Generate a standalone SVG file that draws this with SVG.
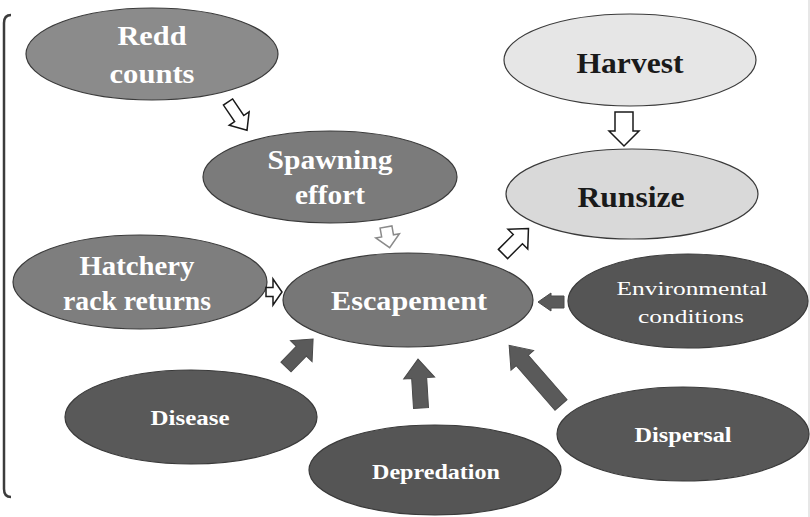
<svg xmlns="http://www.w3.org/2000/svg" width="810" height="517" viewBox="0 0 810 517">
<style>
.n{stroke:#3a3a3a;stroke-width:1.2}
.w{fill:#ffffff;font-family:'Liberation Serif','Times New Roman',serif;font-weight:bold;text-anchor:middle}
.r{font-weight:normal}
.k{fill:#1a1a1a;font-family:'Liberation Serif','Times New Roman',serif;font-weight:bold;text-anchor:middle}
.ho{fill:#ffffff;stroke:#1a1a1a;stroke-width:1.5;stroke-linejoin:miter}
.hg{fill:#ffffff;stroke:#8a8a8a;stroke-width:1.5}
.so{fill:#5a5a5a;stroke:#4a4a4a;stroke-width:1}
</style>
<rect width="810" height="517" fill="#ffffff"/>
<path d="M11,15 Q4,15 4,23 L4,489 Q4,497 11,497" fill="none" stroke="#3c3c3c" stroke-width="2.5"/>
<line x1="809" y1="0" x2="809" y2="517" stroke="#cfcfcf" stroke-width="1"/>

<g id="redd-counts">
<ellipse class="n" cx="152" cy="54" rx="126" ry="46" fill="#8b8b8b"/>
<text class="w" x="152" y="45" font-size="27" textLength="69" lengthAdjust="spacingAndGlyphs" font-family="Liberation Serif, serif">Redd</text>
<text class="w" x="152" y="83" font-size="27" textLength="85" lengthAdjust="spacingAndGlyphs" font-family="Liberation Serif, serif">counts</text>
</g>
<g id="harvest">
<ellipse class="n" cx="630" cy="60" rx="126" ry="46" fill="#e6e6e6"/>
<text class="k" x="630" y="73" font-size="29" textLength="107" lengthAdjust="spacingAndGlyphs" font-family="Liberation Serif, serif">Harvest</text>
</g>
<g id="runsize">
<ellipse class="n" cx="632" cy="194" rx="126" ry="45" fill="#d9d9d9"/>
<text class="k" x="631" y="207" font-size="29" textLength="107" lengthAdjust="spacingAndGlyphs" font-family="Liberation Serif, serif">Runsize</text>
</g>
<g id="spawning-effort">
<ellipse class="n" cx="330" cy="177" rx="127" ry="46" fill="#7b7b7b"/>
<text class="w" x="330" y="169" font-size="27" textLength="125" lengthAdjust="spacingAndGlyphs" font-family="Liberation Serif, serif">Spawning</text>
<text class="w" x="330" y="204" font-size="27" textLength="70" lengthAdjust="spacingAndGlyphs" font-family="Liberation Serif, serif">effort</text>
</g>
<g id="hatchery-rack-returns">
<ellipse class="n" cx="140" cy="282" rx="127" ry="47" fill="#7e7e7e"/>
<text class="w" x="137" y="275" font-size="27" textLength="115" lengthAdjust="spacingAndGlyphs" font-family="Liberation Serif, serif">Hatchery</text>
<text class="w" x="137" y="310" font-size="27" textLength="148" lengthAdjust="spacingAndGlyphs" font-family="Liberation Serif, serif">rack returns</text>
</g>
<g id="escapement">
<ellipse class="n" cx="408" cy="300" rx="125" ry="47" fill="#777777"/>
<text class="w" x="409" y="310" font-size="27" textLength="156" lengthAdjust="spacingAndGlyphs" font-family="Liberation Serif, serif">Escapement</text>
</g>
<g id="environmental-conditions">
<ellipse class="n" cx="688" cy="301" rx="120" ry="47" fill="#555555"/>
<text class="w r" x="692" y="295" font-size="19" textLength="151" lengthAdjust="spacingAndGlyphs" font-family="Liberation Serif, serif">Environmental</text>
<text class="w r" x="691" y="323" font-size="19" textLength="106" lengthAdjust="spacingAndGlyphs" font-family="Liberation Serif, serif">conditions</text>
</g>
<g id="disease">
<ellipse class="n" cx="191" cy="417" rx="126" ry="47" fill="#595959"/>
<text class="w" x="190" y="425" font-size="21" textLength="79" lengthAdjust="spacingAndGlyphs" font-family="Liberation Serif, serif">Disease</text>
</g>
<g id="depredation">
<ellipse class="n" cx="435" cy="470" rx="126" ry="45" fill="#555555"/>
<text class="w" x="436" y="479" font-size="21" textLength="128" lengthAdjust="spacingAndGlyphs" font-family="Liberation Serif, serif">Depredation</text>
</g>
<g id="dispersal">
<ellipse class="n" cx="683" cy="434" rx="126" ry="47" fill="#575757"/>
<text class="w" x="683" y="442" font-size="21" textLength="97" lengthAdjust="spacingAndGlyphs" font-family="Liberation Serif, serif">Dispersal</text>
</g>

<g id="connectors">
<path class="ho" transform="translate(228,102) rotate(56)" d="M0,-5.5 L20,-5.5 L20,-12 L34,0 L20,12 L20,5.5 L0,5.5 Z"/>
<path class="ho" transform="translate(624,112) rotate(90)" d="M0,-9 L19,-9 L19,-15 L34,0 L19,15 L19,9 L0,9 Z"/>
<path class="hg" transform="translate(386,227) rotate(80)" d="M0,-6 L9,-6 L9,-12 L21,0 L9,12 L9,6 L0,6 Z"/>
<path class="ho" transform="translate(503,254) rotate(-45)" d="M0,-6.5 L21,-6.5 L21,-14 L36,0 L21,14 L21,6.5 L0,6.5 Z"/>
<path class="ho" transform="translate(266,292)" d="M0,-4.5 L7,-4.5 L7,-13 L16,0 L7,13 L7,4.5 L0,4.5 Z" stroke-width="1.3"/>
<path class="so" transform="translate(564,302) rotate(180)" d="M0,-6 L13,-6 L13,-9 L26,0 L13,9 L13,6 L0,6 Z"/>
<path class="so" transform="translate(286,367) rotate(-46)" d="M0,-7 L22,-7 L22,-15 L39,0 L22,15 L22,7 L0,7 Z"/>
<path class="so" transform="translate(421,408) rotate(-93.5)" d="M0,-7.5 L30,-7.5 L30,-15.5 L49,0 L30,15.5 L30,7.5 L0,7.5 Z"/>
<path class="so" transform="translate(561,405) rotate(-131)" d="M0,-8 L59,-8 L59,-15 L79,0 L59,15 L59,8 L0,8 Z"/>
</g>
</svg>
